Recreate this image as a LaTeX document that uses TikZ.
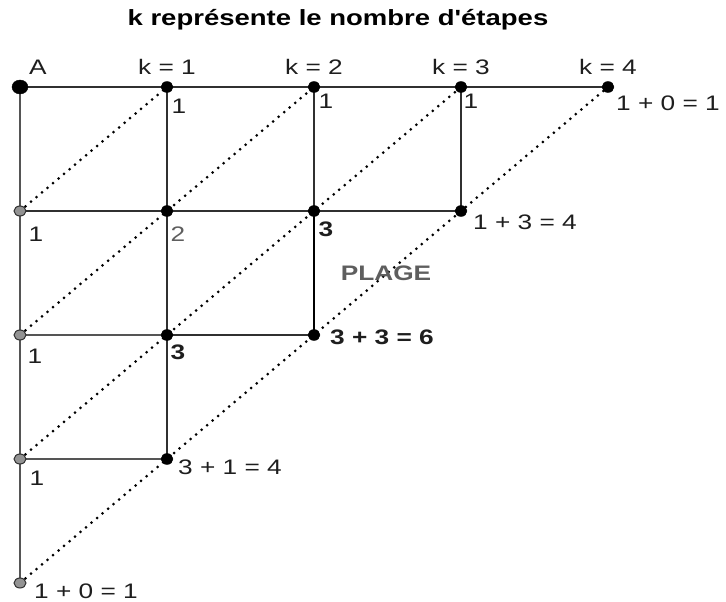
\documentclass[tikz,border=0pt]{standalone}
\usepackage{fontspec}
\setmainfont{Liberation Sans}
\usetikzlibrary{shapes.geometric}
\definecolor{lnD}{HTML}{303030}
\definecolor{lnG}{HTML}{555555}
\definecolor{txt}{HTML}{1E1E1E}
\definecolor{plage}{HTML}{5E5E5E}
\newcommand\stretchtxt[1]{\scalebox{1.25}[1]{#1}}
\tikzset{
  lab/.style={font=\fontsize{21}{22}\selectfont, text=txt, inner sep=0pt},
  blab/.style={lab, font=\fontsize{21}{22}\selectfont\bfseries},
  bdot/.style={ellipse, fill=black, draw=black, inner sep=0pt, minimum width=12pt, minimum height=11pt},
  gdot/.style={ellipse, fill=gray!85, draw=lnD, line width=1pt, inner sep=0pt, minimum width=12pt, minimum height=10pt},
  ln/.style={draw=lnD, line width=2.2pt},
  lng/.style={draw=lnG, line width=2pt},
  dotl/.style={draw=black, line width=3pt, line cap=round, dash pattern=on 0pt off 7.2pt},
}
\begin{document}
\begin{tikzpicture}[x=1pt,y=-1pt]
\useasboundingbox (0,0) rectangle (726,602);
% grid coordinates
\coordinate (c00) at (20,87);  \coordinate (c10) at (167,87); \coordinate (c20) at (314,87); \coordinate (c30) at (461,87); \coordinate (c40) at (608,87);
\coordinate (c01) at (20,211); \coordinate (c11) at (167,211); \coordinate (c21) at (314,211); \coordinate (c31) at (461,211);
\coordinate (c02) at (20,335); \coordinate (c12) at (167,335); \coordinate (c22) at (314,335);
\coordinate (c03) at (20,459); \coordinate (c13) at (167,459);
\coordinate (c04) at (20,583);
% dotted diagonals
\draw[dotl] (c01) -- (c10);
\draw[dotl] (c02) -- (c20);
\draw[dotl] (c03) -- (c30);
\draw[dotl] (c04) -- (c40);
% solid lines
\draw[lng] (c00) -- (c04);
\draw[lng] (c02) -- (c12);
\draw[lng] (c03) -- (c13);
\draw[ln] (c00) -- (c40);
\draw[ln] (c01) -- (c31);
\draw[ln] (c12) -- (c22);
\draw[ln] (c10) -- (c13);
\draw[ln] (c20) -- (c21);
\draw[draw=black, line width=2.6pt] (c21) -- (c22);
\draw[ln] (c30) -- (c31);
% dots
\node[bdot, minimum width=16pt, minimum height=14pt] (d00) at (c00) {};
\node[bdot] (d10) at (c10) {};
\node[bdot] (d20) at (c20) {};
\node[bdot] (d30) at (c30) {};
\node[bdot] (d40) at (c40) {};
\node[gdot] (d01) at (c01) {};
\node[bdot] (d11) at (c11) {};
\node[bdot] (d21) at (c21) {};
\node[bdot] (d31) at (c31) {};
\node[gdot] (d02) at (c02) {};
\node[bdot] (d12) at (c12) {};
\node[bdot] (d22) at (c22) {};
\node[gdot] (d03) at (c03) {};
\node[bdot] (d13) at (c13) {};
\node[gdot] (d04) at (c04) {};
% title
\node[font=\fontsize{22}{24}\selectfont\bfseries, text=black, inner sep=0pt, anchor=base] (title) at (338,26) {\stretchtxt{k représente le nombre d\textquotesingle étapes}};
% top labels
\node[lab] (tA) at (38,67) {\stretchtxt{A}};
\node[lab] (tk1) at (167,67) {\stretchtxt{k = 1}};
\node[lab] (tk2) at (314,67) {\stretchtxt{k = 2}};
\node[lab] (tk3) at (461,67) {\stretchtxt{k = 3}};
\node[lab] (tk4) at (608,67) {\stretchtxt{k = 4}};
% values
\node[lab] (v10) at (179,106) {\stretchtxt{1}};
\node[lab] (v20) at (326,101) {\stretchtxt{1}};
\node[lab] (v30) at (471,101) {\stretchtxt{1}};
\node[lab, anchor=west] (v40) at (616,103) {\stretchtxt{1 + 0 = 1}};
\node[lab] (v01) at (36,234) {\stretchtxt{1}};
\node[lab, text=plage] (v11) at (178,234) {\stretchtxt{2}};
\node[blab] (v21) at (326,229) {\stretchtxt{3}};
\node[lab, anchor=west] (v31) at (473,222) {\stretchtxt{1 + 3 = 4}};
\node[font=\fontsize{21}{22}\selectfont\bfseries, text=plage, inner sep=0pt] (plage) at (386,273) {\stretchtxt{PLAGE}};
\node[lab] (v02) at (35,356) {\stretchtxt{1}};
\node[blab] (v12) at (178,352) {\stretchtxt{3}};
\node[blab, anchor=west] (v22) at (330,337) {\stretchtxt{3 + 3 = 6}};
\node[lab] (v03) at (37,478) {\stretchtxt{1}};
\node[lab, anchor=west] (v13) at (178,467) {\stretchtxt{3 + 1 = 4}};
\node[lab, anchor=west] (v04) at (34,591) {\stretchtxt{1 + 0 = 1}};
\end{tikzpicture}
\end{document}
